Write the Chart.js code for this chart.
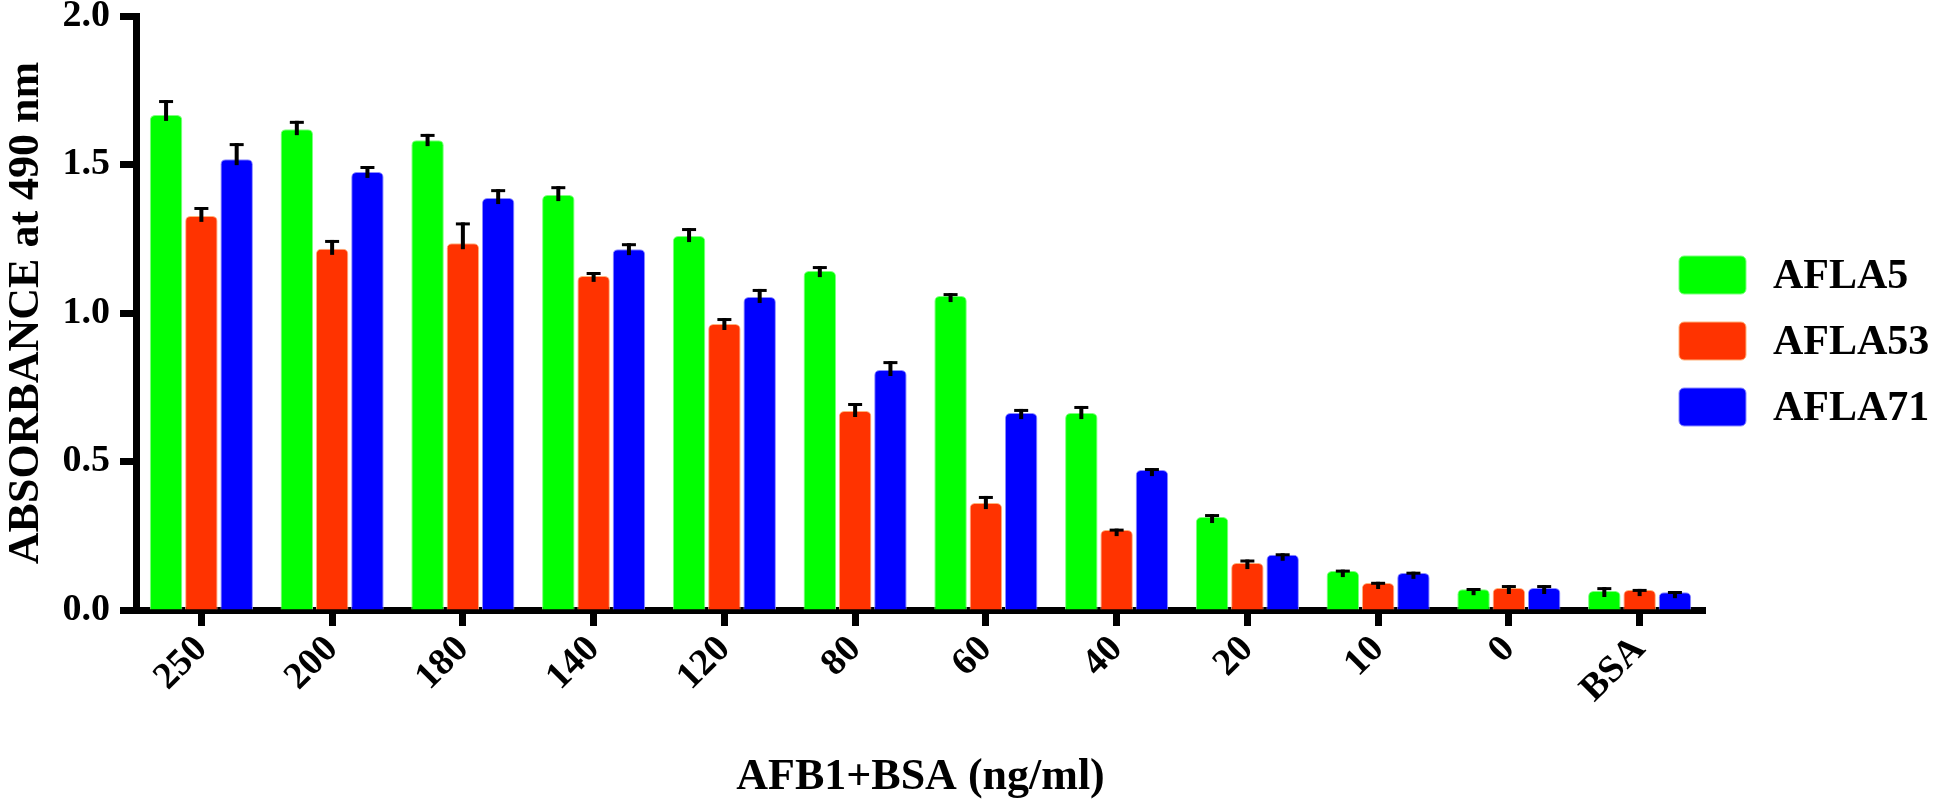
<!DOCTYPE html>
<html>
<head>
<meta charset="utf-8">
<script src="https://cdn.jsdelivr.net/npm/chart.js@4.4.1/dist/chart.umd.min.js"></script>
<style>
  html, body { margin: 0; padding: 0; background: #fff; }
  #wrap { width: 1933px; height: 804px; }
</style>
</head>
<body>
<div id="wrap"><canvas id="grafico"></canvas></div>
<script>
// dados
const categorias = ["250", "200", "180", "140", "120", "80", "60", "40", "20", "10", "0", "BSA"];
const afla5  = [1.667, 1.619, 1.582, 1.397, 1.259, 1.141, 1.057, 0.663, 0.313, 0.131, 0.070, 0.064];
const afla53 = [1.327, 1.216, 1.235, 1.125, 0.963, 0.670, 0.360, 0.269, 0.158, 0.091, 0.074, 0.067];
const afla71 = [1.518, 1.475, 1.387, 1.215, 1.054, 0.808, 0.663, 0.471, 0.186, 0.125, 0.074, 0.060];
const erroAfla5  = [0.050, 0.028, 0.021, 0.030, 0.027, 0.017, 0.010, 0.024, 0.010, 0.005, 0.004, 0.013];
const erroAfla53 = [0.030, 0.030, 0.070, 0.013, 0.020, 0.027, 0.024, 0.005, 0.012, 0.004, 0.010, 0.004];
const erroAfla71 = [0.054, 0.020, 0.030, 0.020, 0.027, 0.030, 0.014, 0.007, 0.005, 0.004, 0.010, 0.004];
const ticksY = [0, 0.5, 1.0, 1.5, 2.0];

const fonte = "'Liberation Serif', 'Times New Roman', serif";
Chart.defaults.font.family = fonte;
Chart.defaults.font.weight = "bold";
Chart.defaults.color = "#000";

// barras de erro (só a metade de cima, como no original)
const barrasErro = {
  id: "barrasErro",
  afterDatasetsDraw(chart) {
    const ctx = chart.ctx;
    const y = chart.scales.y;
    chart.data.datasets.forEach((ds, i) => {
      const meta = chart.getDatasetMeta(i);
      meta.data.forEach((bar, j) => {
        const topo = y.getPixelForValue(ds.data[j] + ds.erro[j]);
        ctx.save();
        ctx.strokeStyle = "#000";
        ctx.lineWidth = 4;
        ctx.beginPath();
        ctx.moveTo(bar.x, topo);
        ctx.lineTo(bar.x, bar.y + 6);
        ctx.stroke();
        ctx.lineWidth = 3;
        ctx.beginPath();
        ctx.moveTo(bar.x - 7, topo + 1.5);
        ctx.lineTo(bar.x + 7, topo + 1.5);
        ctx.stroke();
        ctx.restore();
      });
    });
  }
};

// legenda desenhada à mão (fica por cima da área do gráfico)
const legenda = {
  id: "legenda",
  afterDraw(chart) {
    const ctx = chart.ctx;
    const area = chart.chartArea;
    const x0 = area.right - 26;
    chart.data.datasets.forEach((ds, i) => {
      const topo = area.top + 240 + i * 66;
      ctx.save();
      ctx.fillStyle = ds.backgroundColor;
      ctx.strokeStyle = ds.borderColor;
      ctx.lineWidth = 1;
      ctx.beginPath();
      ctx.roundRect(x0, topo, 67, 38, 5);
      ctx.fill();
      ctx.stroke();
      ctx.fillStyle = "#000";
      ctx.font = "bold 42px " + fonte;
      ctx.textBaseline = "middle";
      ctx.textAlign = "left";
      ctx.fillText(ds.label, x0 + 94, topo + 21);
      ctx.restore();
    });
  }
};

function dataset(label, dados, erro, cor, borda) {
  return {
    label,
    data: dados,
    erro,
    backgroundColor: cor,
    borderColor: borda,
    borderWidth: { left: 1, right: 1, top: 1, bottom: 0 },
    borderRadius: { topLeft: 5, topRight: 5 },
    borderSkipped: "start",
    categoryPercentage: 0.81,
    barPercentage: 0.92,
  };
}

new Chart(document.getElementById("grafico"), {
  type: "bar",
  data: {
    labels: categorias,
    datasets: [
      dataset("AFLA5", afla5, erroAfla5, "#00ff00", "#7dff7d"),
      dataset("AFLA53", afla53, erroAfla53, "#ff3300", "#ffb27a"),
      dataset("AFLA71", afla71, erroAfla71, "#0000ff", "#8c8cff"),
    ],
  },
  options: {
    responsive: true,
    maintainAspectRatio: false,
    devicePixelRatio: 1,
    animation: false,
    layout: { padding: { top: 16, right: 228, bottom: 0, left: 0 } },
    plugins: {
      legend: { display: false },
      tooltip: { enabled: false },
    },
    scales: {
      x: {
        z: 1,
        grid: {
          display: true, drawOnChartArea: false, drawTicks: true, offset: false,
          tickLength: 16, tickWidth: 7, tickColor: "#000",
        },
        border: { display: true, color: "#000", width: 7 },
        ticks: {
          autoSkip: false, minRotation: 45, maxRotation: 45, padding: 4,
          font: { size: 38, weight: "bold", lineHeight: 1 },
        },
        title: {
          display: true, text: "AFB1+BSA (ng/ml)",
          font: { size: 44, weight: "bold", lineHeight: 1 },
          padding: { top: 0, bottom: 4 },
        },
        afterFit(s) { s.height = 194; s.paddingLeft = 0; s.paddingRight = 0; },
      },
      y: {
        min: ticksY[0],
        max: ticksY[ticksY.length - 1],
        afterBuildTicks(s) { s.ticks = ticksY.map(v => ({ value: v })); },
        grid: {
          display: true, drawOnChartArea: false, drawTicks: true,
          tickLength: 16, tickWidth: 7, tickColor: "#000",
        },
        border: { display: true, color: "#000", width: 7 },
        ticks: {
          padding: 10,
          font: { size: 38, weight: "bold", lineHeight: 1 },
          callback: v => Number(v).toFixed(1),
        },
        title: {
          display: true, text: "ABSORBANCE at 490 nm",
          font: { size: 44, weight: "bold", lineHeight: 1 },
          padding: { top: 5, bottom: 0 },
        },
        afterFit(s) { s.width = 136; s.paddingTop = 0; s.paddingBottom = 0; },
      },
    },
  },
  plugins: [barrasErro, legenda],
});
</script>
</body>
</html>
